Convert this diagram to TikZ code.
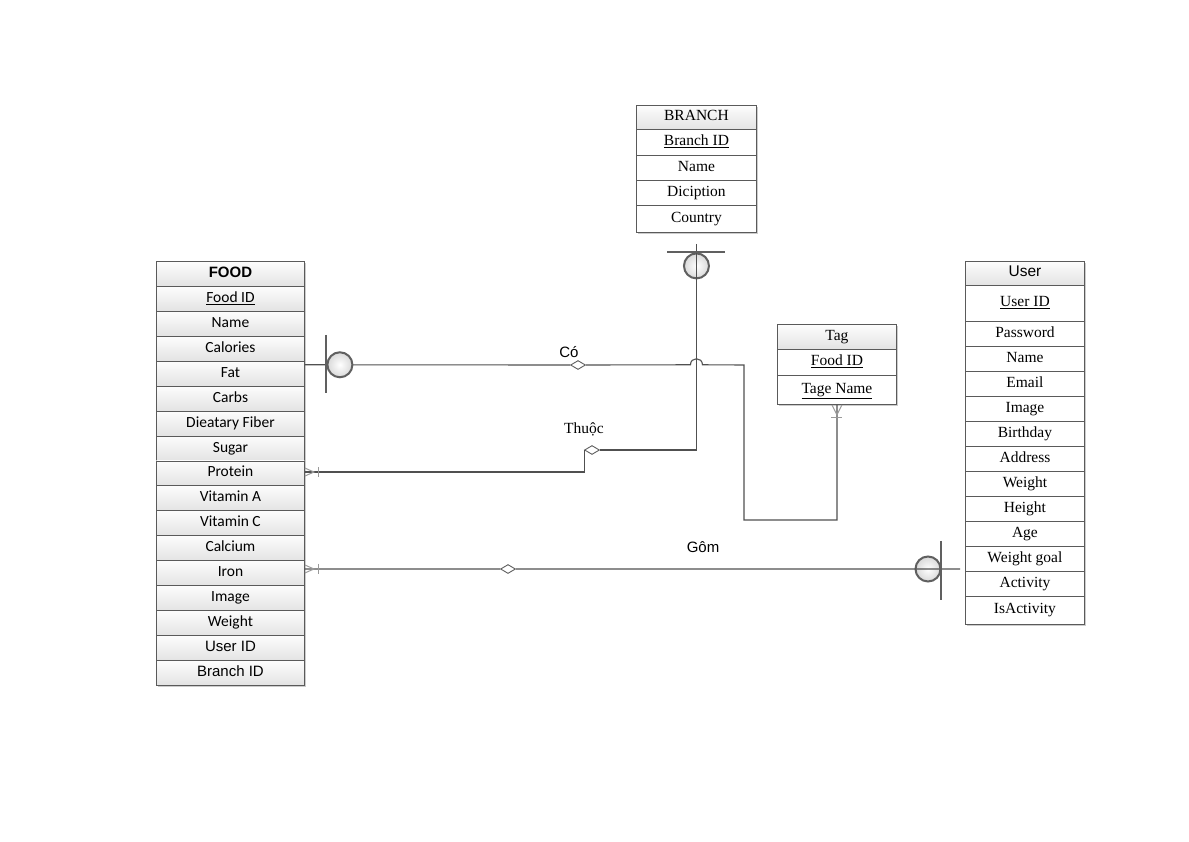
\documentclass[tikz,border=0pt]{standalone}
\usepackage{fontspec}
\setmainfont{Liberation Serif}
\newfontfamily\calib{Carlito}
\newfontfamily\arialf{Liberation Sans}
\usetikzlibrary{shapes.geometric,shadows}
\definecolor{linegray}{HTML}{505050}
\definecolor{bordergray}{HTML}{5A5A5A}
\definecolor{symgray}{HTML}{606060}
\definecolor{crowgray}{HTML}{9A9A9A}
\tikzset{
  tblbox/.style={draw=bordergray, line width=0.9pt, anchor=north west, inner sep=0pt,
    text height=10.5pt, text depth=3.5pt,
    drop shadow={shadow xshift=1.5pt, shadow yshift=-1.5pt, fill=black!20, opacity=1}},
  grayrow/.style={tblbox, top color=white!99!black, bottom color=white!89!black},
  whiterow/.style={tblbox, fill=white},
  foodfont/.style={font=\calib\fontsize{15.5}{17}\selectfont},
  serf/.style={font=\fontsize{15.5}{17}\selectfont},
  ln/.style={draw=linegray, line width=1.1pt},
  symbar/.style={draw=symgray, line width=2.4pt},
  symcirc/.style={draw=symgray, line width=2pt, inner color=white, outer color=white!85!black},
  crowline/.style={draw=crowgray, line width=1pt},
  reldia/.style={diamond, draw=symgray, fill=white, line width=0.9pt, inner sep=0pt,
    minimum width=15pt, minimum height=9pt},
  lab/.style={inner sep=1pt}
}
\begin{document}
\begin{tikzpicture}[x=1pt,y=-1pt]
\fill[white] (0,0) rectangle (1189,841);
\useasboundingbox (0,0) rectangle (1189,841);

% FOOD table
\foreach \t [count=\i from 0] in {{\arialf\bfseries\fontsize{15}{17}\selectfont FOOD},{\underline{Food ID}},Name,Calories,Fat,Carbs,Dieatary Fiber,Sugar,Protein,Vitamin A,Vitamin C,Calcium,Iron,Image,Weight,{\arialf\fontsize{15}{17}\selectfont User ID},{\arialf\fontsize{15}{17}\selectfont Branch ID}}
  \node[grayrow, foodfont, minimum width=148pt, minimum height=24.94pt] (f\i) at (156,{261+24.94*\i}) {\t};

% BRANCH table
\node[grayrow, serf, minimum width=120pt, minimum height=24pt] (b0) at (636,105) {BRANCH};
\node[whiterow, serf, minimum width=120pt, minimum height=26pt] (b1) at (636,129) {\underline{Branch ID}};
\node[whiterow, serf, minimum width=120pt, minimum height=25pt] (b2) at (636,155) {Name};
\node[whiterow, serf, minimum width=120pt, minimum height=25pt] (b3) at (636,180) {Diciption};
\node[whiterow, serf, minimum width=120pt, minimum height=27pt] (b4) at (636,205) {Country};

% Tag table
\node[grayrow, serf, minimum width=119pt, minimum height=25pt] (t0) at (777,324) {Tag};
\node[whiterow, serf, minimum width=119pt, minimum height=26pt] (t1) at (777,349) {\underline{Food ID}};
\node[whiterow, serf, minimum width=119pt, minimum height=29pt] (t2) at (777,375) {\underline{Tage Name}};

% User table
\node[grayrow, font=\arialf\fontsize{15.5}{17}\selectfont, minimum width=119pt, minimum height=24pt] (u0) at (965,261) {User};
\node[whiterow, serf, minimum width=119pt, minimum height=36pt] (u1) at (965,285) {\underline{User ID}};
\foreach \t [count=\i from 2] in {Password,Name,Email,Image,Birthday,Address,Weight,Height,Age,Weight goal,Activity}
  \node[whiterow, serf, minimum width=119pt, minimum height=25pt] (u\i) at (965,{321+25*(\i-2)}) {\t};
\node[whiterow, serf, minimum width=119pt, minimum height=28pt] (u13) at (965,596) {IsActivity};

% relationship diamonds and labels
\node[reldia] (co) at (578,365) {};
\node[reldia] (th) at (592,450) {};
\node[reldia] (gm) at (508,569) {};
\node[lab, font=\arialf\fontsize{15}{17}\selectfont] (lco) at (569,352) {Có};
\node[lab, serf] (lth) at (584,429) {Thuộc};
\node[lab, font=\arialf\fontsize{15}{17}\selectfont] (lgm) at (703,547) {Gôm};

% ---- Có : FOOD -- Tag
\coordinate (coS) at ([yshift=-4pt]f4.north east);
\coordinate (cX) at (744,365);
\coordinate (yb) at (0,520);
\draw[ln] (coS) -- (co.west);
\draw[ln] (co.east) -- ([xshift=-6pt]b4.south |- coS)
  .. controls +(0pt,8pt) and +(0pt,8pt) .. ([xshift=6pt]b4.south |- coS)
  -- (cX) -- (cX |- yb) -- (t2.south |- yb) -- (t2.south);
\draw[symbar] ([xshift=21pt,yshift=30pt]coS) -- ([xshift=21pt,yshift=-28pt]coS);
\draw[symcirc] ([xshift=35pt]coS) circle[radius=12.5pt];
\draw[crowline] ([xshift=-5pt]t2.south) -- ([yshift=-10pt]t2.south) -- ([xshift=5pt]t2.south);
\draw[crowline] ([xshift=-5.5pt,yshift=-13pt]t2.south) -- ([xshift=5.5pt,yshift=-13pt]t2.south);

% ---- Thuộc : BRANCH -- FOOD
\coordinate (thF) at ([yshift=-11.5pt]f8.north east);
\draw[symcirc] ([yshift=-33pt]b4.south) circle[radius=12.5pt];
\draw[ln] ([yshift=-11pt]b4.south) -- (b4.south |- th.east) -- (th.east);
\draw[ln] (th.west) -- (th.west |- thF) -- (thF);
\draw[symbar] ([xshift=-29pt,yshift=-19pt]b4.south) -- ([xshift=29pt,yshift=-19pt]b4.south);
\draw[crowline] ([yshift=4pt]thF) -- ([xshift=9pt]thF) -- ([yshift=-4pt]thF);
\draw[crowline] ([xshift=14pt,yshift=5pt]thF) -- ([xshift=14pt,yshift=-5pt]thF);

% ---- Gôm : FOOD -- User
\coordinate (gS) at ([yshift=-8.7pt]f12.north east);
\path (gS -| u11.west) ++(-5pt,0pt) coordinate (gE);
\draw[ln] (gS) -- (gm.west);
\draw[symcirc] ([xshift=-37pt]gS -| u11.west) circle[radius=12.5pt];
\draw[ln] (gm.east) -- (gE);
\draw[symbar] ([xshift=-24pt,yshift=28pt]gS -| u11.west) -- ([xshift=-24pt,yshift=-31pt]gS -| u11.west);
\draw[crowline] ([yshift=4pt]gS) -- ([xshift=9pt]gS) -- ([yshift=-4pt]gS);
\draw[crowline] ([xshift=14pt,yshift=5pt]gS) -- ([xshift=14pt,yshift=-5pt]gS);
\end{tikzpicture}
\end{document}
